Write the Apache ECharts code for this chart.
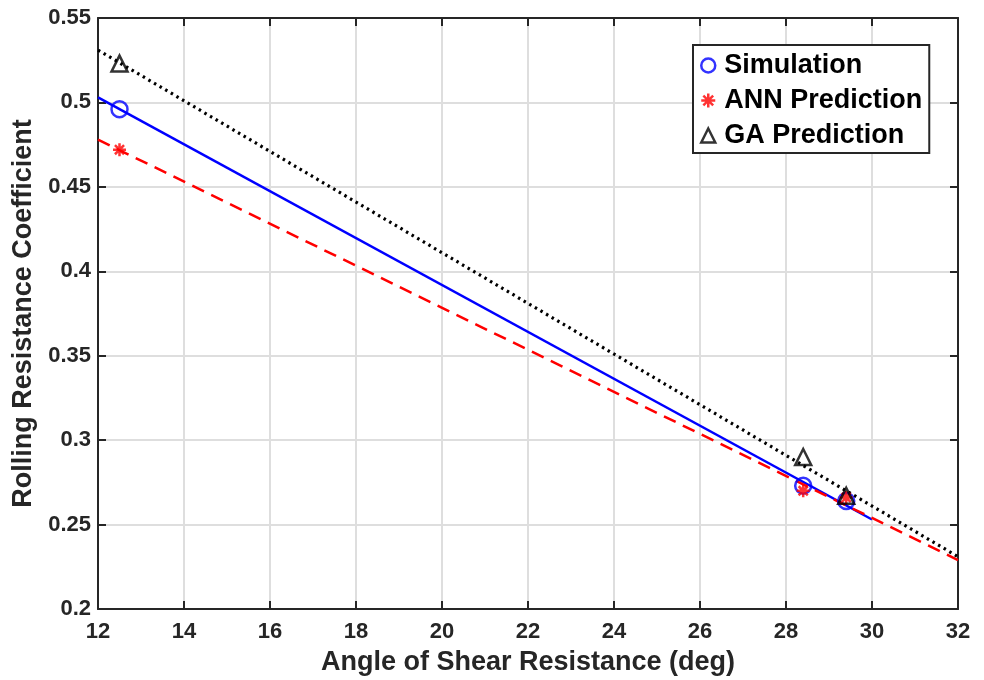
<!DOCTYPE html>
<html>
<head>
<meta charset="utf-8">
<script src="https://cdn.jsdelivr.net/npm/echarts@6/dist/echarts.min.js"></script>
<style>
  html, body { margin: 0; padding: 0; background: #fff; }
  #chart { width: 984px; height: 680px; }
</style>
</head>
<body>
<div id="chart"></div>
<script>
// Measured points: angle of shear resistance (deg) vs rolling resistance coefficient
const angles = [12.5, 28.4, 29.4];
const simulation = [0.496, 0.273, 0.264];
const annPrediction = [0.472, 0.270, 0.266];
const gaPrediction = [0.523, 0.290, 0.267];

// Fitted trend lines, given by their end points [x, y]
const simulationFitX = [12, 30];
const simulationFitY = [0.503, 0.253];
const annFitX = [12, 32];
const annFitY = [0.478, 0.229];
const gaFitX = [12, 32];
const gaFitY = [0.531, 0.231];

// Axis ranges
const xMin = 12, xMax = 32, xStep = 2;
const yMin = 0.2, yMax = 0.55, yStep = 0.05;

const zip = (xs, ys) => xs.map((x, i) => [x, ys[i]]);

const FONT = '"Liberation Sans", Arial, sans-serif';
const AXIS_COLOR = '#262626';
const ASTERISK = 'path://M0,-10L0,10M-10,0L10,0M-7,-7L7,7M-7,7L7,-7';

const chart = echarts.init(document.getElementById('chart'), null, { renderer: 'canvas' });

const baseAxis = {
  axisLine: { show: true, onZero: false, lineStyle: { color: AXIS_COLOR, width: 2 } },
  axisTick: { show: true, inside: true, length: 8, lineStyle: { color: AXIS_COLOR, width: 2 } },
  splitLine: { show: false }
};

chart.setOption({
  animation: false,
  backgroundColor: '#ffffff',
  grid: { left: 98, right: 26, top: 18, bottom: 71, containLabel: false, outerBoundsMode: 'none' },
  xAxis: [
    Object.assign({}, baseAxis, {
      type: 'value', min: xMin, max: xMax, interval: xStep, position: 'bottom',
      name: 'Angle of Shear Resistance (deg)', nameLocation: 'middle', nameGap: 40,
      nameTextStyle: { fontFamily: FONT, fontWeight: 'bold', fontSize: 27, color: AXIS_COLOR },
      axisLabel: { fontFamily: FONT, fontWeight: 'bold', fontSize: 22, color: AXIS_COLOR, margin: 12 },
      splitLine: { show: true, lineStyle: { color: '#dedede', width: 2 } }
    }),
    Object.assign({}, baseAxis, {
      type: 'value', min: xMin, max: xMax, interval: xStep, position: 'top',
      axisLabel: { show: false }
    })
  ],
  yAxis: [
    Object.assign({}, baseAxis, {
      type: 'value', min: yMin, max: yMax, interval: yStep, position: 'left',
      name: 'Rolling Resistance Coefficient', nameLocation: 'middle', nameGap: 55,
      nameTextStyle: { fontFamily: FONT, fontWeight: 'bold', fontSize: 27, color: AXIS_COLOR },
      axisLabel: { fontFamily: FONT, fontWeight: 'bold', fontSize: 22, color: AXIS_COLOR, margin: 7,
                   formatter: v => String(+v.toFixed(2)) },
      splitLine: { show: true, lineStyle: { color: '#dedede', width: 2 } }
    }),
    Object.assign({}, baseAxis, {
      type: 'value', min: yMin, max: yMax, interval: yStep, position: 'right',
      axisLabel: { show: false }
    })
  ],
  legend: {
    left: 693, top: 45,
    orient: 'vertical',
    padding: [7, 7, 4, 7],
    itemGap: 8,
    itemWidth: 14, itemHeight: 14,
    borderColor: AXIS_COLOR, borderWidth: 2,
    backgroundColor: '#ffffff',
    textStyle: { fontFamily: FONT, fontWeight: 'bold', fontSize: 27, lineHeight: 27, color: '#000',
                 padding: [0, 0, 0, 4] },
    data: [
      { name: 'Simulation', icon: 'circle',
        itemStyle: { color: 'transparent', borderColor: '#0000ff', borderWidth: 2.5 } },
      { name: 'ANN Prediction', icon: ASTERISK,
        itemStyle: { color: '#ff0000', borderColor: '#ff0000', borderWidth: 2.5 } },
      { name: 'GA Prediction', icon: 'triangle',
        itemStyle: { color: 'transparent', borderColor: '#000000', borderWidth: 2.5 } }
    ]
  },
  series: [
    {
      name: 'Simulation fit', type: 'line', data: zip(simulationFitX, simulationFitY),
      symbol: 'none', lineStyle: { color: '#0000ff', width: 2.5 }, z: 2
    },
    {
      name: 'ANN fit', type: 'line', data: zip(annFitX, annFitY),
      symbol: 'none', lineStyle: { color: '#ff0000', width: 2.5, type: [13, 8] }, z: 2
    },
    {
      name: 'GA fit', type: 'line', data: zip(gaFitX, gaFitY),
      symbol: 'none', lineStyle: { color: '#000000', width: 3.2, type: [2.5, 4] }, z: 2
    },
    {
      name: 'Simulation', type: 'scatter', data: zip(angles, simulation),
      symbol: 'circle', symbolSize: 16,
      itemStyle: { color: 'transparent', borderColor: '#0000ff', borderWidth: 2.5 }, z: 3
    },
    {
      name: 'ANN Prediction', type: 'scatter', data: zip(angles, annPrediction),
      symbol: ASTERISK, symbolSize: 13,
      itemStyle: { color: '#ff0000', borderColor: '#ff0000', borderWidth: 2.5 }, z: 4
    },
    {
      name: 'GA Prediction', type: 'scatter', data: zip(angles, gaPrediction),
      symbol: 'triangle', symbolSize: 16,
      itemStyle: { color: 'transparent', borderColor: '#000000', borderWidth: 2.5 }, z: 5
    }
  ]
});
</script>
</body>
</html>
